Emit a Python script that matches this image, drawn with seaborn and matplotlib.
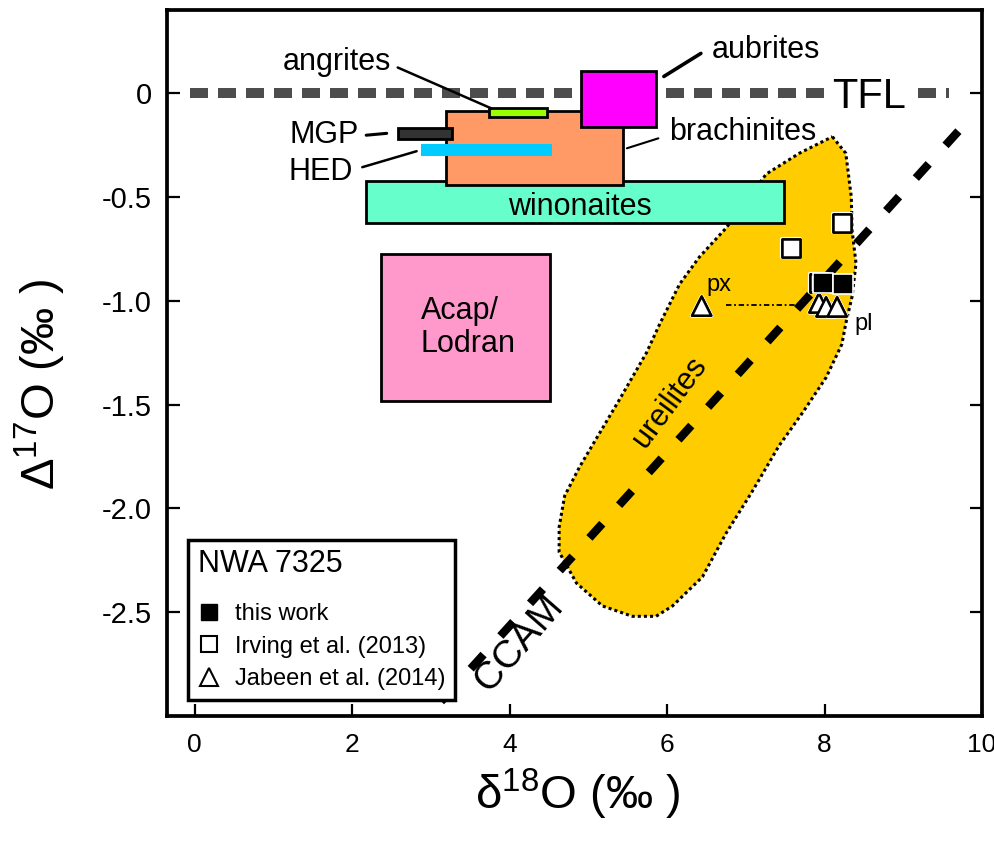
import numpy as np
import pandas as pd
import matplotlib
matplotlib.use("Agg")
import matplotlib.pyplot as plt
import matplotlib.patheffects as pe
from matplotlib import font_manager
from matplotlib.patches import Rectangle, Polygon
from matplotlib.lines import Line2D
import seaborn as sns

# meteorite group fields (d18O range, D17O range)
group_names = ["winonaites", "brachinites", "angrites", "aubrites", "MGP", "HED", "Acap/Lodran"]
group_x0 = [2.18, 3.19, 3.74, 4.91, 2.58, 2.87, 2.37]
group_x1 = [7.49, 5.44, 4.47, 5.86, 3.27, 4.54, 4.52]
group_y0 = [-0.626, -0.444, -0.117, -0.165, -0.223, -0.304, -1.482]
group_y1 = [-0.425, -0.088, -0.074, 0.104, -0.170, -0.247, -0.776]

# ureilite field outline
ureilite_d18O = [8.10, 8.27, 8.34, 8.35, 8.40, 8.35, 8.27, 8.22, 8.02, 7.72, 7.42, 7.08,
                 6.75, 6.45, 6.07, 5.86, 5.56, 5.18, 4.85, 4.63, 4.63, 4.70, 4.89, 5.14,
                 5.39, 5.74, 5.91, 6.16, 6.41, 6.75, 7.26, 7.68]
ureilite_D17O = [-0.21, -0.29, -0.50, -0.66, -0.82, -0.98, -1.11, -1.21, -1.37, -1.54, -1.70, -1.92,
                 -2.12, -2.33, -2.47, -2.52, -2.52, -2.47, -2.36, -2.21, -2.09, -1.94, -1.80, -1.64,
                 -1.48, -1.25, -1.11, -0.92, -0.79, -0.65, -0.39, -0.29]

# reference lines
tfl_d18O = [-0.06, 9.58]
tfl_D17O = [0.0, 0.0]
ccam_d18O = [3.13, 9.90]
ccam_D17O = [-2.93, -0.10]

# NWA 7325 data
this_work_d18O = [7.98, 8.23]
this_work_D17O = [-0.915, -0.920]
irving_d18O = [8.22, 7.58, 7.93]
irving_D17O = [-0.626, -0.747, -0.915]
jabeen_d18O = [6.44, 7.93, 8.02, 8.16]
jabeen_D17O = [-1.026, -1.011, -1.030, -1.030]
tie_d18O = [6.75, 7.74]
tie_D17O = [-1.02, -1.02]

x_ticks = [0, 2, 4, 6, 8, 10]
x_ticklabels = ["0", "2", "4", "6", "8", "10"]
y_ticks = [0, -0.5, -1.0, -1.5, -2.0, -2.5]
y_ticklabels = ["0", "-0.5", "-1.0", "-1.5", "-2.0", "-2.5"]

fill = {"winonaites": "#66FFCC", "brachinites": "#FF9966", "angrites": "#99FF00",
        "aubrites": "#FF00FF", "MGP": "#333333", "HED": "#00CCFF", "Acap/Lodran": "#FF99CC"}
zord = {"winonaites": 3, "brachinites": 4, "angrites": 5, "aubrites": 5, "MGP": 5, "HED": 5, "Acap/Lodran": 3}

sns.set_theme(style="ticks")
plt.rcParams["font.family"] = ["Liberation Sans", "DejaVu Sans"]
plt.rcParams["mathtext.default"] = "regular"
plt.rcParams["axes.unicode_minus"] = False
plt.rcParams["text.color"] = "black"
plt.rcParams["axes.labelcolor"] = "black"
plt.rcParams["xtick.color"] = "black"
plt.rcParams["ytick.color"] = "black"

# x tick numbers look condensed in the original
installed = {f.name for f in font_manager.fontManager.ttflist}
narrow = "Liberation Sans Narrow" in installed

fig = plt.figure(figsize=(9.95, 8.41), dpi=100)
ax = fig.add_axes([167 / 995, (841 - 716) / 841, (982 - 167) / 995, (716 - 10) / 841])

# ureilites
ax.add_patch(Polygon(np.column_stack([ureilite_d18O, ureilite_D17O]), closed=True,
                     facecolor="#FFCC00", edgecolor="black", lw=2.2, ls=(0, (1, 1)), zorder=1))
ax.text(6.03, -1.49, "ureilites", fontsize=22, rotation=53.5, ha="center", va="center",
        rotation_mode="anchor", zorder=2)

# CCAM and TFL
ax.plot(ccam_d18O, ccam_D17O, color="black", lw=6, dashes=(2.3, 3.0), zorder=2)
ax.text(4.12, -2.65, "CCAM", fontsize=28, rotation=48.8, ha="center", va="center",
        rotation_mode="anchor", zorder=2)
ax.plot(tfl_d18O, tfl_D17O, color="#4D4D4D", lw=7.2, dashes=(1.8, 1.0), zorder=2)
ax.text(8.10, -0.074, "TFL", fontsize=30, ha="left", va="baseline", zorder=3,
        bbox=dict(facecolor="white", edgecolor="none", pad=6))

# group boxes
for name, x0, x1, y0, y1 in zip(group_names, group_x0, group_x1, group_y0, group_y1):
    ec = "none" if name == "HED" else "black"
    ax.add_patch(Rectangle((x0, y0), x1 - x0, y1 - y0, facecolor=fill[name],
                           edgecolor=ec, lw=2, zorder=zord[name]))

ax.text(4.89, -0.588, "winonaites", fontsize=22, ha="center", va="baseline", zorder=6)
ax.text(2.87, -1.13, "Acap/\nLodran", fontsize=22, ha="left", va="center",
        linespacing=1.15, zorder=6)

# labels with leader lines
ax.plot([2.58, 3.77], [0.123, -0.074], color="black", lw=1.8, zorder=6)
ax.text(2.50, 0.109, "angrites", fontsize=22, ha="right", va="baseline")
ax.plot([5.96, 6.43], [0.080, 0.191], color="black", lw=2.6, zorder=6)
ax.text(6.57, 0.171, "aubrites", fontsize=22, ha="left", va="baseline")
ax.plot([5.49, 5.89], [-0.266, -0.218], color="black", lw=1.5, zorder=6)
ax.text(6.03, -0.228, "brachinites", fontsize=22, ha="left", va="baseline")
ax.plot([2.18, 2.44], [-0.203, -0.194], color="black", lw=2.2, zorder=6)
ax.text(2.09, -0.242, "MGP", fontsize=22, ha="right", va="baseline")
ax.plot([2.13, 2.82], [-0.357, -0.280], color="black", lw=1.8, zorder=6)
ax.text(2.01, -0.42, "HED", fontsize=22, ha="right", va="baseline")

# NWA 7325 points
ax.plot(tie_d18O, tie_D17O, color="black", lw=1.3, ls=(0, (3, 1.5, 1, 1.5)), zorder=6)
halo = [pe.withStroke(linewidth=3, foreground="white")]
sns.scatterplot(x=jabeen_d18O, y=jabeen_D17O, marker="^", s=190, color="white",
                edgecolor="black", linewidth=1.8, ax=ax, zorder=7, legend=False)
sns.scatterplot(x=irving_d18O, y=irving_D17O, marker="s", s=170, color="white",
                edgecolor="black", linewidth=1.8, ax=ax, zorder=8, legend=False)
sns.scatterplot(x=this_work_d18O, y=this_work_D17O, marker="s", s=210, color="black",
                edgecolor="white", linewidth=1.2, ax=ax, zorder=9, legend=False)
for coll in ax.collections[-3:-1]:
    coll.set_path_effects(halo + [pe.Normal()])
ax.text(6.50, -0.951, "px", fontsize=17, ha="left", va="baseline", zorder=10)
ax.text(8.38, -1.14, "pl", fontsize=17, ha="left", va="baseline", zorder=10)

# axes
ax.set_xlim(-0.35, 10.0)
ax.set_ylim(-3.0, 0.4)
ax.set_xticks(x_ticks)
ax.set_xticklabels(x_ticklabels)
ax.set_yticks(y_ticks)
ax.set_yticklabels(y_ticklabels)
ax.tick_params(direction="in", length=9, width=1.6, right=True, top=False, colors="black")
ax.tick_params(axis="x", labelsize=22 if narrow else 19, pad=12)
ax.tick_params(axis="y", labelsize=21, pad=11)
if narrow:
    for t in ax.get_xticklabels():
        t.set_family(["Liberation Sans Narrow", "Liberation Sans"])
for sp in ax.spines.values():
    sp.set_visible(True)
    sp.set_linewidth(2.7)
    sp.set_color("black")

ax.set_xlabel("δ$^{18}$O (‰ )", fontsize=34)
ax.set_ylabel("Δ$^{17}$O (‰ )", fontsize=34)
ax.xaxis.set_label_coords(0.504, -0.072)
ax.yaxis.set_label_coords(-0.121, 0.469)

# legend
handles = [
    Line2D([], [], ls="none", marker="s", ms=12, mfc="black", mec="black"),
    Line2D([], [], ls="none", marker="s", ms=11, mfc="white", mec="black", mew=1.5),
    Line2D([], [], ls="none", marker="^", ms=13, mfc="white", mec="black", mew=1.5),
]
labels = ["this work", "Irving et al. (2013)", "Jabeen et al. (2014)"]
leg = ax.legend(handles, labels, title="NWA 7325", loc="lower left",
                bbox_to_anchor=(0.026, 0.023), borderaxespad=0, frameon=True,
                fancybox=False, edgecolor="black", framealpha=1, fontsize=17,
                title_fontsize=22, handlelength=1.0, handletextpad=0.6,
                labelspacing=0.45, borderpad=0.4, alignment="left")
leg._legend_box.sep = 17
leg.get_frame().set_linewidth(2.5)
leg.set_zorder(10)

fig.savefig("out.png", dpi=100)
